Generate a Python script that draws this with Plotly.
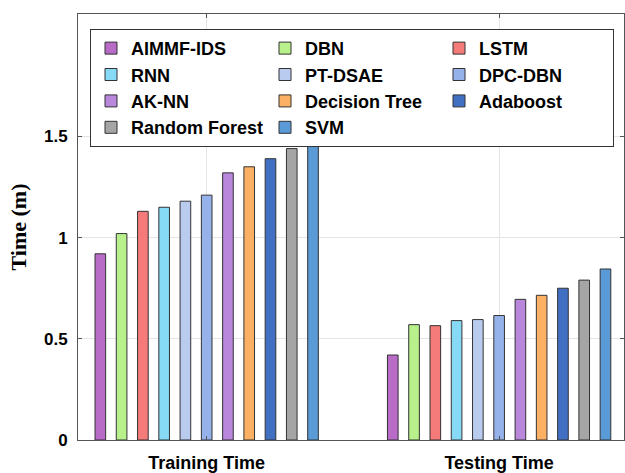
import plotly.graph_objects as go

groups = ["Training Time", "Testing Time"]
group_pos = [1, 2]
methods = ["AIMMF-IDS", "DBN", "LSTM", "RNN", "PT-DSAE", "DPC-DBN",
           "AK-NN", "Decision Tree", "Adaboost", "Random Forest", "SVM"]
training = [0.92, 1.02, 1.13, 1.15, 1.18, 1.21, 1.32, 1.35, 1.39, 1.44, 1.45]
testing = [0.42, 0.57, 0.565, 0.59, 0.595, 0.615, 0.695, 0.715, 0.75, 0.79, 0.845]
colors = ["#B86CC8", "#B8F08C", "#F57A7A", "#87DAF5", "#B9CCF0", "#96B2EB",
          "#B987DC", "#FCB064", "#4170C3", "#A5A5A5", "#5A9BD7"]
y_ticks = [0, 0.5, 1, 1.5]
y_tick_text = ["0", "0.5", "1", "1.5"]

fig = go.Figure()
for i, m in enumerate(methods):
    fig.add_trace(go.Bar(
        x=group_pos, y=[training[i], testing[i]], name=m,
        marker=dict(color=colors[i], line=dict(color="#333333", width=1)),
    ))

sans = "Liberation Sans, Arial, sans-serif"
fig.update_layout(
    width=625, height=473,
    margin=dict(l=78, r=0, t=14, b=31),
    paper_bgcolor="white", plot_bgcolor="white",
    barmode="group", bargap=0.2, bargroupgap=0.5,
    font=dict(family=sans, color="black"),
    legend=dict(
        orientation="h", x=0.022, y=0.965, xanchor="left", yanchor="top",
        bgcolor="white", bordercolor="#333333", borderwidth=1,
        font=dict(family=sans, size=18, weight="bold", color="black"),
        entrywidth=129, traceorder="normal", tracegroupgap=0,
    ),
    xaxis=dict(
        range=[0.56, 2.427], tickvals=group_pos, ticktext=groups,
        showgrid=True, gridcolor="#E4E4E4", gridwidth=1,
        showline=True, linecolor="#555555", linewidth=1, mirror="ticks",
        ticks="inside", ticklen=4, tickcolor="#555555",
        tickfont=dict(family=sans, size=18, weight="bold", color="black"),
        ticklabelstandoff=6, zeroline=False,
    ),
    yaxis=dict(
        range=[0, 2.105], tickvals=y_ticks, ticktext=y_tick_text,
        showgrid=True, gridcolor="#E4E4E4", gridwidth=1,
        showline=True, linecolor="#555555", linewidth=1, mirror="ticks",
        ticks="inside", ticklen=4, tickcolor="#555555",
        tickfont=dict(family=sans, size=17, weight="bold", color="black"),
        ticklabelstandoff=6, zeroline=False,
        title=dict(text="Time (m)", standoff=11,
                   font=dict(family="Liberation Serif, Times New Roman, serif",
                             size=22, weight="bold", color="black")),
    ),
)

fig.write_html("out.html")
